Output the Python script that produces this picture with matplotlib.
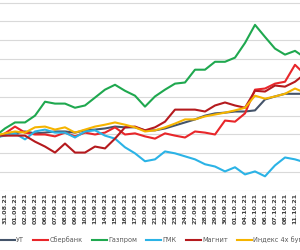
import matplotlib
matplotlib.use("Agg")
import matplotlib.pyplot as plt

# dates (first and last lie just outside the visible crop)
dates = ["30.08.21", "31.08.21", "01.09.21", "02.09.21", "03.09.21", "06.09.21",
         "07.09.21", "08.09.21", "09.09.21", "10.09.21", "13.09.21", "14.09.21",
         "15.09.21", "16.09.21", "17.09.21", "20.09.21", "21.09.21", "22.09.21",
         "23.09.21", "24.09.21", "27.09.21", "28.09.21", "29.09.21", "30.09.21",
         "01.10.21", "04.10.21", "05.10.21", "06.10.21", "07.10.21", "08.10.21",
         "11.10.21", "12.10.21"]

ut = [-0.3, 0, 0.3, 0.8, 0.3, 0.5, 0.8, 0.8, 0.5, 1.1, 1.3, 1.6, 2.1, 1.9, 1.9, 1.1,
      1.1, 1.6, 2.4, 3.2, 4.0, 5.0, 5.6, 5.8, 6.1, 6.1, 6.4, 9.3, 10.1, 10.8, 10.8, 10.8]
sber = [-1.3, 0.3, 2.1, 0.5, 0, 0, -0.5, 0.5, -0.5, 0.5, 0, 0.5, 1.9, 0, 0.3, -0.5,
        -1.1, 0.3, -0.3, -0.8, 0.8, 0.5, 0, 3.7, 3.4, 5.6, 11.9, 12.2, 13.5, 14.0, 18.5, 15.9]
gazprom = [-0.5, 1.6, 3.2, 3.2, 5.0, 8.7, 8.2, 8.2, 7.1, 7.7, 9.8, 11.9, 13.2, 11.6, 10.3, 7.4,
           10.1, 11.9, 13.5, 13.8, 17.2, 17.2, 19.3, 19.3, 20.4, 24.3, 29.1, 25.9, 22.8, 21.2, 22.2, 20.4]
gmk = [-0.8, -0.3, 0.3, -1.3, 0.8, 1.3, 0.5, 0.5, -0.8, 0.8, 1.1, -0.3, -1.1, -3.4, -5.0, -7.1,
       -6.6, -4.5, -5.0, -5.8, -6.6, -7.9, -8.5, -9.8, -8.7, -10.6, -9.8, -11.1, -8.2, -6.1, -6.6, -7.4]
magnit = [-0.3, -0.3, -0.3, -0.3, -1.9, -3.2, -4.8, -2.4, -4.8, -4.8, -3.2, -3.7, -1.1, 1.9, 2.1, 1.1,
          1.9, 3.4, 6.6, 6.6, 6.6, 6.1, 7.7, 8.5, 7.7, 7.1, 11.6, 11.4, 13.0, 12.7, 14.0, 16.1]
index4 = [-0.3, 0.3, 0.8, 0.5, 1.9, 2.1, 1.3, 1.9, 0.5, 1.3, 2.1, 2.6, 3.2, 2.6, 1.9, 0.8,
          1.1, 1.9, 2.9, 4.0, 4.0, 4.8, 5.3, 5.8, 6.4, 7.1, 10.3, 9.5, 10.1, 10.8, 12.2, 11.1]

series = [
    ("УТ", ut, "#44546A"),
    ("Сбербанк", sber, "#E8262A"),
    ("Газпром", gazprom, "#1FA84F"),
    ("ГМК", gmk, "#2BB3E6"),
    ("Магнит", magnit, "#B51A1E"),
    ("Индекс 4х бумаг", index4, "#F5B400"),
]

fig = plt.figure(figsize=(3, 2.5), dpi=100)
ax = fig.add_axes([0, 0.236, 1, 0.764])

x = list(range(-1, len(dates) - 1))
for name, vals, col in series:
    ax.plot(x, vals, color=col, lw=1.5, label=name)

ax.set_xlim(-0.5, 29.5)
ax.set_ylim(-14.8, 35.7)
ax.set_yticks(range(-15, 40, 5))
ax.yaxis.grid(True, color="#D9D9D9", lw=0.8)
ax.set_axisbelow(True)
ax.tick_params(axis="y", left=False, labelleft=False)
# only the dates inside the crop get a label
ax.set_xticks(x[1:-1])
ax.set_xticklabels(dates[1:-1], rotation=90, fontsize=4.6, fontweight="bold", color="#404040")
ax.tick_params(axis="x", length=0, pad=1.5)
for s in ax.spines.values():
    s.set_visible(False)

fig.legend(loc="center left", bbox_to_anchor=(0.0, 0.04), ncol=6, frameon=False,
           fontsize=4.7, handlelength=2.3, handletextpad=0.2, columnspacing=1.4,
           borderpad=0, borderaxespad=0, labelcolor="#595959")

fig.savefig("out.png", dpi=100)
